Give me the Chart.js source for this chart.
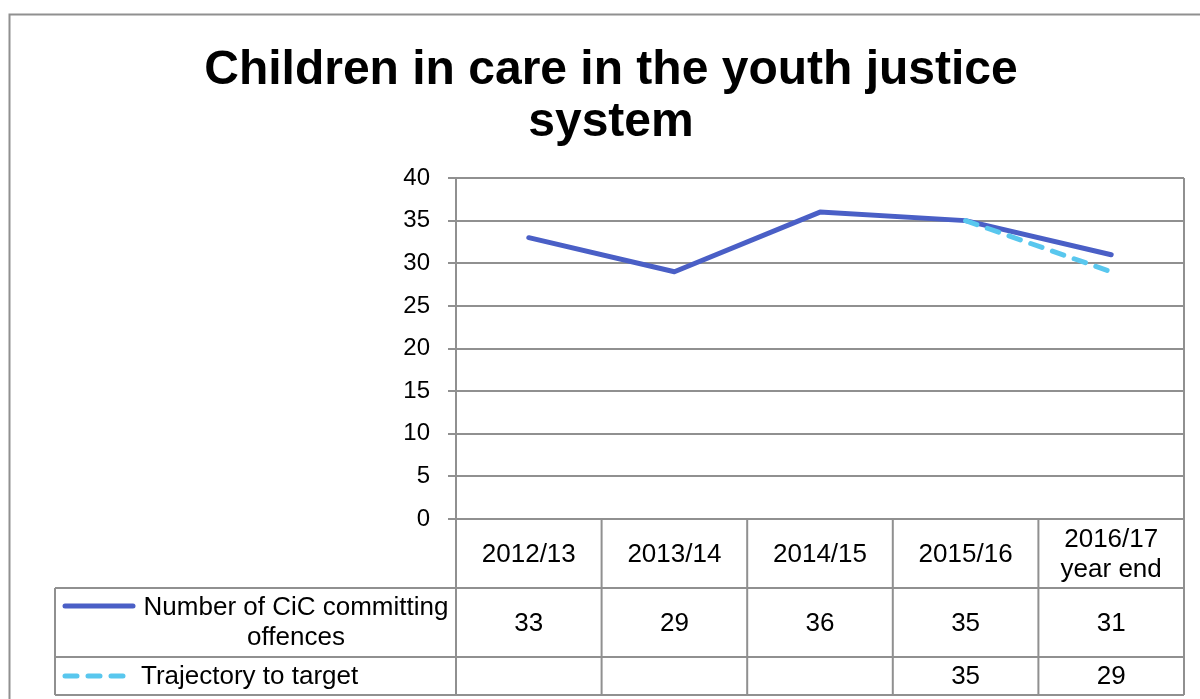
<!DOCTYPE html>
<html lang="en">
<head>
    <meta charset="UTF-8">
    <title>Children in care in the youth justice system</title>
    <script src="https://cdn.jsdelivr.net/npm/chart.js"></script>
    <style>
        body { margin: 0; padding: 0; background: #fff; }
        #myChart { display: block; }
    </style>
</head>
<body>
    <canvas id="myChart" width="1200" height="699"></canvas>

    <script>
        // data
        const categories = [['2012/13'], ['2013/14'], ['2014/15'], ['2015/16'], ['2016/17', 'year end']];
        const cicOffences = [33, 29, 36, 35, 31];
        const trajectory = [null, null, null, 35, 29];
        const seriesNames = [['Number of CiC committing', 'offences'], ['Trajectory to target']];
        const yTicks = [0, 5, 10, 15, 20, 25, 30, 35, 40];
        const titleLines = ['Children in care in the youth justice', 'system'];

        const FONT = '"Liberation Sans", Arial, sans-serif';
        const GRID = '#909090';
        const BLUE = '#4A5FC6';
        const LIGHT = '#59C7EE';

        const tablePlugin = {
            id: 'dataTable',
            afterDraw: chart => {
                const ctx = chart.ctx;
                const x = chart.scales.x;
                const area = chart.chartArea;
                const step = x.getPixelForValue(1) - x.getPixelForValue(0);
                const rowTop = area.bottom, row1 = 588, row2 = 657, rowEnd = 695;
                const legendLeft = 55;

                ctx.save();
                ctx.strokeStyle = GRID;
                ctx.lineWidth = 2;

                // outer frame
                ctx.beginPath();
                ctx.moveTo(9.5, 699); ctx.lineTo(9.5, 14.5); ctx.lineTo(1200, 14.5);
                ctx.stroke();

                // table lines
                ctx.beginPath();
                for (let i = 0; i <= categories.length; i++) {
                    const bx = x.getPixelForValue(i) - step / 2;
                    ctx.moveTo(bx, i === categories.length ? area.top : rowTop);
                    ctx.lineTo(bx, rowEnd);
                }
                [row1, row2, rowEnd].forEach(ry => {
                    ctx.moveTo(legendLeft, ry);
                    ctx.lineTo(area.right, ry);
                });
                ctx.moveTo(legendLeft, row1);
                ctx.lineTo(legendLeft, rowEnd);
                ctx.stroke();

                // header + values
                ctx.fillStyle = '#000';
                ctx.font = '26px ' + FONT;
                ctx.textAlign = 'center';
                ctx.textBaseline = 'middle';
                categories.forEach((lines, i) => {
                    const cx = x.getPixelForValue(i);
                    const mid = (rowTop + row1) / 2;
                    lines.forEach((t, j) => {
                        ctx.fillText(t, cx, mid + 1 + (j - (lines.length - 1) / 2) * 30);
                    });
                    if (cicOffences[i] !== null) ctx.fillText(String(cicOffences[i]), cx, (row1 + row2) / 2 + 1);
                    if (trajectory[i] !== null) ctx.fillText(String(trajectory[i]), cx, (row2 + rowEnd) / 2 + 1);
                });

                // legend keys
                ctx.lineCap = 'round';
                ctx.lineWidth = 5;
                ctx.strokeStyle = BLUE;
                ctx.beginPath(); ctx.moveTo(65, 606); ctx.lineTo(133, 606); ctx.stroke();
                ctx.strokeStyle = LIGHT;
                ctx.setLineDash([12, 11]);
                ctx.beginPath(); ctx.moveTo(65, 676); ctx.lineTo(125, 676); ctx.stroke();
                ctx.setLineDash([]);

                ctx.fillText(seriesNames[0][0], 296, 608);
                ctx.fillText(seriesNames[0][1], 296, 638);
                ctx.textAlign = 'left';
                ctx.fillText(seriesNames[1][0], 141, 677);

                // title
                ctx.textAlign = 'center';
                ctx.textBaseline = 'alphabetic';
                ctx.font = 'bold 48px ' + FONT;
                ctx.fillText(titleLines[0], 611, 84);
                ctx.fillText(titleLines[1], 611, 136);
                ctx.restore();
            }
        };

        const ctx = document.getElementById('myChart').getContext('2d');
        new Chart(ctx, {
            type: 'line',
            data: {
                labels: categories,
                datasets: [{
                    label: seriesNames[1].join(' '),
                    data: trajectory,
                    borderColor: LIGHT,
                    borderWidth: 5,
                    borderDash: [12, 11],
                    borderCapStyle: 'round',
                    pointRadius: 0,
                    spanGaps: false
                }, {
                    label: seriesNames[0].join(' '),
                    data: cicOffences,
                    borderColor: BLUE,
                    borderWidth: 5,
                    borderCapStyle: 'round',
                    borderJoinStyle: 'round',
                    pointRadius: 0
                }]
            },
            options: {
                responsive: false,
                animation: false,
                layout: { padding: { top: 178, right: 16, left: 0, bottom: 0 } },
                scales: {
                    x: {
                        offset: true,
                        grid: { display: false },
                        border: { display: false },
                        ticks: { display: false },
                        afterFit: scale => { scale.height = 180; }
                    },
                    y: {
                        min: 0,
                        max: 40,
                        afterBuildTicks: scale => { scale.ticks = yTicks.map(v => ({ value: v })); },
                        ticks: { color: '#000', font: { family: FONT, size: 24 }, padding: 18 },
                        grid: { color: GRID, lineWidth: 2, tickLength: 8 },
                        border: { color: GRID, width: 2 },
                        afterFit: scale => { scale.width = 456; }
                    }
                },
                plugins: {
                    legend: { display: false },
                    tooltip: { enabled: false },
                    title: { display: false }
                }
            },
            plugins: [tablePlugin]
        });
    </script>
</body>
</html>
